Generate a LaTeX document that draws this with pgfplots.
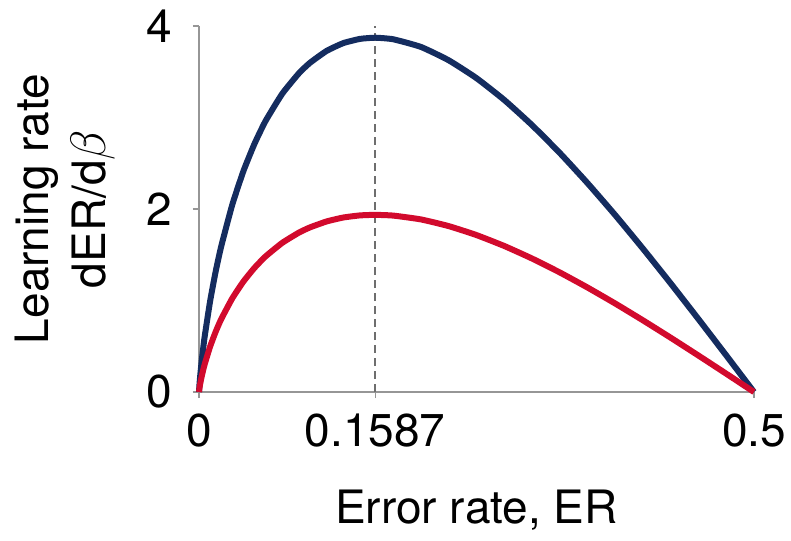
\documentclass[border=0pt]{standalone}
\usepackage{fontspec}
\setmainfont{TeX Gyre Heros}
\usepackage{pgfplots}
\pgfplotsset{compat=1.18}
\definecolor{cblue}{RGB}{20,44,95}
\definecolor{cred}{RGB}{210,10,45}
\definecolor{axgray}{RGB}{150,150,150}
\definecolor{dashgray}{RGB}{110,110,110}
\begin{document}
\begin{tikzpicture}
\begin{axis}[
 scale only axis, width=277.5pt, height=183pt,
 xmin=0, xmax=0.5, ymin=0, ymax=4,
 axis x line*=bottom, axis y line*=left,
 axis line style={axgray, line width=0.6pt},
 tick style={axgray, line width=0.6pt},
 tick align=outside, major tick length=3pt,
 xtick={0,0.1587,0.5}, xticklabels={0,0.1587,0.5},
 ytick={0,2,4}, yticklabels={0,2,4},
 font=\fontsize{23}{28.5}\selectfont,
 ticklabel style={font=\fontsize{23}{28.5}\selectfont},
 xticklabel style={inner sep=0pt, anchor=north, yshift=-7.5pt},
 yticklabel style={inner sep=0pt, anchor=east, xshift=-10.5pt},
 xlabel={Error rate, ER},
 xlabel style={at={(axis description cs:0.5,0)}, anchor=base, yshift=-65.5pt, inner sep=0pt},
 ylabel={Learning rate\\dER/d$\beta$},
 ylabel style={align=center, inner sep=0pt, at={(axis description cs:-0.1495,0.5)}, anchor=south},
 clip=false,
]
\addplot[dashgray, line width=0.7pt, dash pattern=on 4pt off 2.5pt] coordinates {(0.1587,0) (0.1587,4)};
\addplot[cblue, line width=3pt, smooth, tension=0.3] coordinates {
(0,0) (0.0005,0.094) (0.001,0.167) (0.0025,0.348) (0.005,0.596) (0.01,0.992) (0.015,1.316) (0.02,1.591) (0.03,2.048) (0.04,2.414) (0.05,2.713) (0.06,2.963) (0.075,3.26) (0.09,3.483) (0.1,3.598) (0.115,3.728) (0.13,3.813) (0.145,3.859) (0.1587,3.872) (0.175,3.855) (0.2,3.771) (0.225,3.625) (0.25,3.430) (0.275,3.192) (0.3,2.917) (0.325,2.613) (0.35,2.283) (0.375,1.933) (0.4,1.566) (0.425,1.186) (0.45,0.796) (0.475,0.400) (0.5,0)};
\addplot[cred, line width=3pt, smooth, tension=0.3] coordinates {
(0,0) (0.0005,0.047) (0.001,0.084) (0.0025,0.174) (0.005,0.298) (0.01,0.496) (0.015,0.658) (0.02,0.796) (0.03,1.024) (0.04,1.207) (0.05,1.357) (0.06,1.482) (0.075,1.63) (0.09,1.742) (0.1,1.799) (0.115,1.864) (0.13,1.907) (0.145,1.930) (0.1587,1.936) (0.175,1.928) (0.2,1.886) (0.225,1.813) (0.25,1.715) (0.275,1.596) (0.3,1.459) (0.325,1.307) (0.35,1.142) (0.375,0.967) (0.4,0.783) (0.425,0.593) (0.45,0.398) (0.475,0.200) (0.5,0)};
\end{axis}
\pgfresetboundingbox
\path ([shift={(-99.5pt,-74pt)}]current axis.south west) rectangle ([shift={(18.5pt,13pt)}]current axis.north east);
\end{tikzpicture}
\end{document}
